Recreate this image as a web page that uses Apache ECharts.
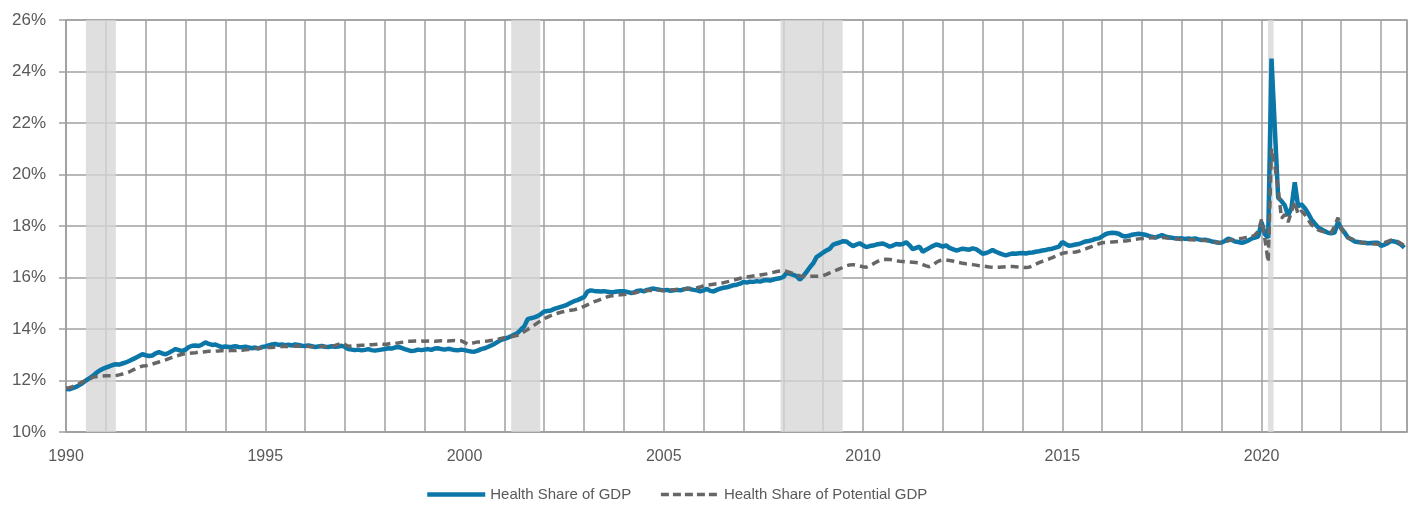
<!DOCTYPE html>
<html>
<head>
<meta charset="utf-8">
<title>Health Share of GDP</title>
<script src="https://cdn.jsdelivr.net/npm/echarts@6/dist/echarts.min.js"></script>
<style>
  html, body { margin: 0; padding: 0; background: #fff; }
  #chart { width: 1413px; height: 505px; }
</style>
</head>
<body>
<div id="chart"></div>
<script>
// monthly values, Jan 1990 .. Aug 2023 (percent)
const startYear = 1990
const seriesNames = ['Health Share of GDP', 'Health Share of Potential GDP']

const healthShareGDP = [
  11.67, 11.66, 11.70, 11.75, 11.82, 11.90, 12.00, 12.08, 12.17, 12.28, 12.38, 12.45, // 1990
  12.50, 12.55, 12.60, 12.63, 12.62, 12.66, 12.70, 12.76, 12.82, 12.88, 12.95, 13.02, // 1991
  12.98, 12.95, 12.97, 13.05, 13.10, 13.05, 13.02, 13.08, 13.15, 13.22, 13.18, 13.14, // 1992
  13.20, 13.30, 13.35, 13.36, 13.34, 13.40, 13.48, 13.42, 13.38, 13.40, 13.34, 13.30, // 1993
  13.32, 13.30, 13.31, 13.33, 13.30, 13.29, 13.31, 13.28, 13.25, 13.28, 13.24, 13.30, // 1994
  13.32, 13.36, 13.40, 13.42, 13.38, 13.40, 13.37, 13.39, 13.36, 13.40, 13.38, 13.35, // 1995
  13.34, 13.36, 13.33, 13.30, 13.32, 13.34, 13.31, 13.30, 13.33, 13.31, 13.32, 13.35, // 1996
  13.30, 13.22, 13.20, 13.18, 13.20, 13.17, 13.19, 13.22, 13.18, 13.16, 13.18, 13.20, // 1997
  13.22, 13.25, 13.24, 13.28, 13.30, 13.27, 13.22, 13.18, 13.14, 13.16, 13.20, 13.18, // 1998
  13.20, 13.22, 13.19, 13.24, 13.25, 13.22, 13.20, 13.23, 13.21, 13.18, 13.17, 13.20, // 1999
  13.18, 13.15, 13.13, 13.12, 13.16, 13.22, 13.25, 13.30, 13.36, 13.42, 13.50, 13.58, // 2000
  13.62, 13.66, 13.72, 13.78, 13.85, 13.98, 14.10, 14.38, 14.42, 14.45, 14.50, 14.58, // 2001
  14.68, 14.70, 14.72, 14.78, 14.82, 14.86, 14.90, 14.95, 15.02, 15.08, 15.12, 15.18, // 2002
  15.24, 15.45, 15.50, 15.48, 15.47, 15.46, 15.47, 15.45, 15.43, 15.44, 15.46, 15.47, // 2003
  15.47, 15.44, 15.40, 15.42, 15.48, 15.50, 15.46, 15.52, 15.55, 15.57, 15.54, 15.52, // 2004
  15.50, 15.52, 15.48, 15.50, 15.52, 15.50, 15.54, 15.57, 15.55, 15.52, 15.50, 15.46, // 2005
  15.50, 15.56, 15.48, 15.46, 15.52, 15.57, 15.60, 15.62, 15.66, 15.70, 15.72, 15.76, // 2006
  15.83, 15.80, 15.84, 15.83, 15.86, 15.84, 15.88, 15.90, 15.88, 15.92, 15.95, 15.97, // 2007
  16.02, 16.18, 16.14, 16.10, 16.05, 15.92, 16.05, 16.22, 16.40, 16.55, 16.79, 16.88, // 2008
  16.97, 17.05, 17.12, 17.28, 17.32, 17.36, 17.41, 17.40, 17.30, 17.22, 17.28, 17.33, // 2009
  17.25, 17.18, 17.22, 17.24, 17.28, 17.30, 17.32, 17.26, 17.20, 17.24, 17.30, 17.28, // 2010
  17.30, 17.37, 17.25, 17.10, 17.15, 17.20, 17.00, 17.08, 17.15, 17.22, 17.28, 17.25, // 2011
  17.20, 17.25, 17.15, 17.10, 17.05, 17.08, 17.12, 17.10, 17.08, 17.13, 17.10, 17.02, // 2012
  16.92, 16.95, 17.00, 17.07, 17.00, 16.95, 16.90, 16.86, 16.90, 16.93, 16.92, 16.94, // 2013
  16.95, 16.93, 16.96, 16.97, 17.00, 17.02, 17.05, 17.07, 17.10, 17.12, 17.16, 17.20, // 2014
  17.38, 17.30, 17.23, 17.25, 17.28, 17.30, 17.35, 17.40, 17.42, 17.45, 17.50, 17.52, // 2015
  17.60, 17.68, 17.72, 17.74, 17.73, 17.70, 17.62, 17.59, 17.62, 17.66, 17.68, 17.70, // 2016
  17.68, 17.66, 17.62, 17.58, 17.55, 17.60, 17.64, 17.60, 17.56, 17.54, 17.52, 17.51, // 2017
  17.52, 17.50, 17.51, 17.50, 17.52, 17.48, 17.46, 17.47, 17.44, 17.40, 17.38, 17.35, // 2018
  17.36, 17.42, 17.51, 17.46, 17.40, 17.38, 17.35, 17.38, 17.44, 17.51, 17.55, 17.59, // 2019
  18.15, 17.68, 17.55, 24.50, 21.80, 19.10, 18.97, 18.80, 18.40, 18.70, 19.70, 18.77, // 2020
  18.84, 18.70, 18.50, 18.26, 18.10, 17.95, 17.87, 17.80, 17.74, 17.72, 17.75, 18.15, // 2021
  17.90, 17.75, 17.55, 17.48, 17.40, 17.38, 17.36, 17.35, 17.33, 17.34, 17.35, 17.35, // 2022
  17.23, 17.28, 17.33, 17.42, 17.40, 17.35, 17.28, 17.16                              // 2023
]

const healthSharePotential = [
  11.70, 11.72, 11.76, 11.82, 11.88, 11.95, 12.00, 12.06, 12.12, 12.15, 12.16, 12.17, // 1990
  12.18, 12.18, 12.17, 12.19, 12.22, 12.25, 12.28, 12.33, 12.40, 12.46, 12.52, 12.56, // 1991
  12.57, 12.60, 12.64, 12.68, 12.72, 12.76, 12.80, 12.85, 12.90, 12.94, 12.98, 13.02, // 1992
  13.04, 13.05, 13.07, 13.08, 13.10, 13.10, 13.12, 13.14, 13.13, 13.14, 13.15, 13.16, // 1993
  13.14, 13.15, 13.17, 13.16, 13.18, 13.17, 13.19, 13.20, 13.22, 13.24, 13.25, 13.26, // 1994
  13.26, 13.28, 13.28, 13.30, 13.31, 13.32, 13.33, 13.32, 13.33, 13.34, 13.33, 13.32, // 1995
  13.33, 13.32, 13.31, 13.32, 13.33, 13.32, 13.31, 13.33, 13.34, 13.36, 13.40, 13.47, // 1996
  13.40, 13.33, 13.34, 13.35, 13.36, 13.37, 13.37, 13.38, 13.39, 13.40, 13.41, 13.42, // 1997
  13.40, 13.42, 13.44, 13.45, 13.46, 13.48, 13.50, 13.52, 13.52, 13.53, 13.53, 13.53, // 1998
  13.52, 13.53, 13.53, 13.52, 13.53, 13.54, 13.54, 13.53, 13.54, 13.55, 13.54, 13.54, // 1999
  13.48, 13.41, 13.44, 13.47, 13.50, 13.50, 13.52, 13.53, 13.55, 13.57, 13.60, 13.63, // 2000
  13.66, 13.68, 13.70, 13.73, 13.76, 13.82, 13.90, 13.98, 14.07, 14.15, 14.24, 14.32, // 2001
  14.40, 14.46, 14.52, 14.57, 14.61, 14.65, 14.68, 14.71, 14.73, 14.75, 14.78, 14.82, // 2002
  14.88, 14.94, 15.00, 15.06, 15.10, 15.15, 15.20, 15.25, 15.28, 15.30, 15.32, 15.33, // 2003
  15.34, 15.35, 15.37, 15.40, 15.43, 15.46, 15.48, 15.50, 15.50, 15.50, 15.51, 15.50, // 2004
  15.50, 15.50, 15.51, 15.52, 15.53, 15.54, 15.55, 15.56, 15.57, 15.58, 15.60, 15.63, // 2005
  15.68, 15.70, 15.72, 15.74, 15.76, 15.78, 15.80, 15.83, 15.86, 15.90, 15.93, 15.97, // 2006
  16.00, 16.02, 16.04, 16.06, 16.08, 16.10, 16.12, 16.14, 16.17, 16.20, 16.23, 16.25, // 2007
  16.26, 16.24, 16.20, 16.15, 16.10, 16.06, 16.05, 16.04, 16.05, 16.05, 16.05, 16.05, // 2008
  16.07, 16.12, 16.18, 16.24, 16.29, 16.34, 16.40, 16.45, 16.49, 16.50, 16.48, 16.45, // 2009
  16.42, 16.40, 16.45, 16.52, 16.60, 16.66, 16.70, 16.71, 16.70, 16.68, 16.65, 16.63, // 2010
  16.62, 16.61, 16.60, 16.59, 16.58, 16.55, 16.50, 16.45, 16.42, 16.48, 16.58, 16.65, // 2011
  16.68, 16.68, 16.66, 16.64, 16.60, 16.58, 16.55, 16.53, 16.52, 16.50, 16.48, 16.46, // 2012
  16.45, 16.43, 16.41, 16.40, 16.39, 16.40, 16.41, 16.42, 16.43, 16.43, 16.42, 16.40, // 2013
  16.39, 16.39, 16.40, 16.45, 16.52, 16.58, 16.63, 16.68, 16.72, 16.77, 16.83, 16.88, // 2014
  16.94, 16.96, 16.97, 16.98, 16.99, 17.02, 17.07, 17.11, 17.16, 17.21, 17.26, 17.31, // 2015
  17.35, 17.36, 17.37, 17.38, 17.39, 17.40, 17.41, 17.42, 17.44, 17.46, 17.48, 17.50, // 2016
  17.51, 17.52, 17.53, 17.54, 17.55, 17.55, 17.55, 17.54, 17.52, 17.51, 17.50, 17.49, // 2017
  17.48, 17.48, 17.47, 17.47, 17.46, 17.46, 17.46, 17.44, 17.42, 17.40, 17.38, 17.36, // 2018
  17.35, 17.38, 17.42, 17.46, 17.48, 17.50, 17.52, 17.54, 17.56, 17.59, 17.65, 17.80, // 2019
  18.25, 17.50, 16.60, 21.00, 20.35, 19.45, 18.30, 18.45, 18.15, 18.55, 18.95, 18.45, // 2020
  18.58, 18.45, 18.25, 18.06, 17.95, 17.85, 17.80, 17.77, 17.75, 17.74, 18.00, 18.32, // 2021
  17.90, 17.70, 17.55, 17.51, 17.45, 17.40, 17.37, 17.35, 17.33, 17.31, 17.30, 17.29, // 2022
  17.30, 17.35, 17.40, 17.45, 17.44, 17.40, 17.32, 17.23                              // 2023
]

// recession periods (decimal years)
const recessions = [
  [1990.5, 1991.25],
  [2001.17, 2001.9],
  [2007.93, 2009.49],
  [2020.16, 2020.3]
]

const yTicks = [10, 12, 14, 16, 18, 20, 22, 24, 26]

const font = '"Liberation Sans", Arial, sans-serif'
const textColor = '#595959'
const gridColor = '#a0a0a0'
const blue = '#0a77a8'
const gray = '#666666'

function toPoints(values) {
  return values.map((v, i) => [startYear + i / 12, v])
}

const chart = echarts.init(document.getElementById('chart'))

chart.setOption({
  animation: false,
  backgroundColor: '#fff',
  textStyle: { fontFamily: font },
  grid: {
    left: 66,
    right: 6,
    top: 20,
    bottom: 73,
    show: true,
    borderColor: gridColor,
    borderWidth: 1.5
  },
  legend: {
    data: [
      { name: seriesNames[0], lineStyle: { color: blue, width: 4.5 } },
      { name: seriesNames[1], lineStyle: { color: gray, width: 3.5, type: [8, 4] } }
    ],
    left: 420,
    top: 482,
    itemWidth: 58,
    itemHeight: 10,
    itemGap: 28,
    itemStyle: { opacity: 0 },
    textStyle: { fontFamily: font, fontSize: 15, color: textColor }
  },
  xAxis: {
    type: 'value',
    min: startYear,
    max: 2023.65,
    interval: 1,
    axisLine: { show: true, lineStyle: { color: gridColor, width: 1.5 } },
    axisTick: { show: false },
    axisLabel: {
      margin: 17,
      fontSize: 16,
      color: textColor,
      fontFamily: font,
      showMaxLabel: false,
      formatter: v => (v % 5 === 0 ? String(v) : '')
    },
    splitLine: { show: true, lineStyle: { color: gridColor, width: 1.5 } }
  },
  yAxis: {
    type: 'value',
    min: yTicks[0],
    max: yTicks[yTicks.length - 1],
    interval: 2,
    axisLine: { show: true, lineStyle: { color: gridColor, width: 1.5 } },
    axisTick: { show: true, length: 7, lineStyle: { color: gridColor, width: 1.5 } },
    axisLabel: {
      margin: 20,
      fontSize: 17,
      color: textColor,
      fontFamily: font,
      formatter: '{value}%'
    },
    splitLine: { show: true, lineStyle: { color: gridColor, width: 1.5 } }
  },
  series: [{
    name: seriesNames[0],
    type: 'line',
    data: toPoints(healthShareGDP),
    showSymbol: false,
    symbol: 'none',
    color: blue,
    lineStyle: { color: blue, width: 4.5 },
    markArea: {
      silent: true,
      itemStyle: { color: 'rgba(214,214,214,0.78)' },
      data: recessions.map(r => [{ xAxis: r[0] }, { xAxis: r[1] }])
    },
    z: 2
  }, {
    name: seriesNames[1],
    type: 'line',
    data: toPoints(healthSharePotential),
    showSymbol: false,
    symbol: 'none',
    color: gray,
    lineStyle: { color: gray, width: 3.5, type: [8, 5] },
    z: 3
  }]
})
</script>
</body>
</html>
